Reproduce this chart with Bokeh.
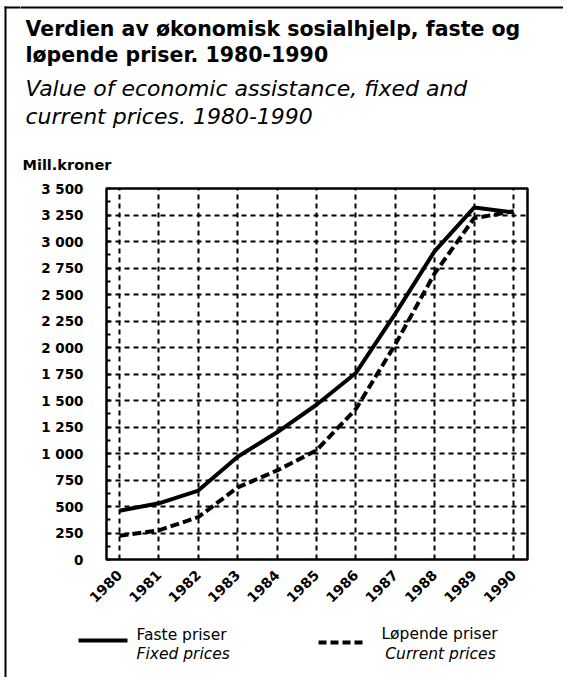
from bokeh.plotting import figure
from bokeh.models import FixedTicker, Range1d
from bokeh.layouts import column, row
from bokeh.core.properties import value
from bokeh.embed import file_html
from bokeh.resources import INLINE
import math

# ---- data ----
years = [1980, 1981, 1982, 1983, 1984, 1985, 1986, 1987, 1988, 1989, 1990]
fixed_prices = [460, 530, 650, 970, 1200, 1460, 1760, 2320, 2910, 3320, 3275]
current_prices = [225, 275, 400, 680, 840, 1030, 1420, 2030, 2700, 3220, 3285]
y_tick_values = [0, 250, 500, 750, 1000, 1250, 1500, 1750, 2000, 2250, 2500, 2750, 3000, 3250, 3500]
y_tick_labels = ["0", "250", "500", "750", "1 000", "1 250", "1 500", "1 750", "2 000",
                 "2 250", "2 500", "2 750", "3 000", "3 250", "3 500"]
year_labels = [str(y) for y in years]

title_lines = ["Verdien av økonomisk sosialhjelp, faste og", "løpende priser. 1980-1990"]
subtitle_lines = ["Value of economic assistance, fixed and", "current prices. 1980-1990"]
unit_label = "Mill.kroner"
legend_fixed = ("Faste priser", "Fixed prices")
legend_current = ("Løpende priser", "Current prices")

FONT = "DejaVu Sans"
W = 563
HEAD_H, CHART_H, LEG_H = 176, 439, 62
TOTAL_H = HEAD_H + CHART_H + LEG_H
SW = 20                       # width of the left strip holding the panel border
CW = W - SW                   # width of the main column
FL, FR, FT, FB = 106, 527, 188, 559   # chart frame edges on the page
BORDER_X, BORDER_Y = 5, 7


def blank(width, height):
    f = figure(width=width, height=height, output_backend="svg", toolbar_location=None,
               x_range=Range1d(0, width), y_range=Range1d(height, 0),
               x_axis_location=None, y_axis_location=None, min_border=0,
               frame_align=False)
    f.outline_line_color = None
    f.grid.visible = False
    f.background_fill_color = "white"
    f.border_fill_color = "white"
    return f


def add_text(f, txt, x, y, size, style="normal", align="left"):
    f.text(x=[x - SW], y=[y], text=[txt], text_font=value(FONT), text_font_size=value(size),
           text_font_style=style, text_color="black", text_align=align,
           text_baseline="middle")


# ---- left strip: panel border ----
strip = blank(SW, TOTAL_H)
strip.quad(left=[BORDER_X - 1], right=[BORDER_X + 1], top=[BORDER_Y - 1], bottom=[TOTAL_H + 20],
           fill_color="black", line_color=None)
strip.quad(left=[BORDER_X - 1], right=[SW + 5], top=[BORDER_Y - 1], bottom=[BORDER_Y + 1],
           fill_color="black", line_color=None)

# ---- header (titles, unit) ----
head = blank(CW, HEAD_H)
head.quad(left=[-5], right=[CW + 5], top=[BORDER_Y - 1], bottom=[BORDER_Y + 1],
          fill_color="black", line_color=None)
add_text(head, title_lines[0], 25, 28, "20.5px", "bold")
add_text(head, title_lines[1], 25, 54, "20.5px", "bold")
add_text(head, subtitle_lines[0], 25, 88, "22px", "italic")
add_text(head, subtitle_lines[1], 25, 116, "22px", "italic")
add_text(head, unit_label, 22, 164, "14.5px", "bold")

# ---- chart ----
X0, X1 = 1979.67, 1990.355
p = figure(width=CW, height=CHART_H, output_backend="svg", toolbar_location=None,
           x_range=Range1d(X0, X1), y_range=Range1d(0, 3500),
           min_border_left=FL - SW, min_border_right=W - FR,
           min_border_top=FT - HEAD_H, min_border_bottom=HEAD_H + CHART_H - FB,
           frame_align=False)
p.background_fill_color = "white"
p.border_fill_color = "white"
p.outline_line_color = "black"
p.outline_line_width = 2.5

p.xgrid.ticker = FixedTicker(ticks=years)
p.ygrid.ticker = FixedTicker(ticks=y_tick_values[1:-1])
for g in (p.xgrid[0], p.ygrid[0]):
    g.grid_line_color = "black"
    g.grid_line_width = 2
    g.grid_line_dash = "5 4"
    g.grid_line_alpha = 1.0

minor = [v + 125 for v in y_tick_values[:-1]]
p.yaxis.ticker = FixedTicker(ticks=y_tick_values, minor_ticks=minor)
p.yaxis.major_label_overrides = {v: l for v, l in zip(y_tick_values, y_tick_labels)}
p.yaxis.axis_line_color = None
p.yaxis.major_tick_in = 4
p.yaxis.major_tick_out = 0
p.yaxis.minor_tick_in = 4
p.yaxis.minor_tick_out = 0
p.yaxis.major_tick_line_width = 2
p.yaxis.minor_tick_line_width = 2
p.yaxis.major_tick_line_color = "black"
p.yaxis.minor_tick_line_color = "black"
p.yaxis.major_label_standoff = 23
p.yaxis.major_label_text_font = FONT
p.yaxis.major_label_text_font_style = "bold"
p.yaxis.major_label_text_font_size = "13.5px"
p.yaxis.major_label_text_color = "black"

p.xaxis.ticker = FixedTicker(ticks=years)
p.xaxis.major_label_overrides = {y: l for y, l in zip(years, year_labels)}
p.xaxis.axis_line_color = None
p.xaxis.major_tick_in = 0
p.xaxis.major_tick_out = 0
p.xaxis.minor_tick_line_color = None
p.xaxis.major_label_orientation = math.pi / 4
p.xaxis.major_label_standoff = 13
p.xaxis.major_label_text_font = FONT
p.xaxis.major_label_text_font_style = "bold"
p.xaxis.major_label_text_font_size = "14px"
p.xaxis.major_label_text_color = "black"

p.line(years, fixed_prices, line_color="black", line_width=4, line_join="round")
p.line(years, current_prices, line_color="black", line_width=4, line_dash="9 4")

# ---- legend ----
leg = blank(CW, LEG_H)
leg.line([78 - SW, 127 - SW], [25, 25], line_color="black", line_width=4)
leg.line([318 - SW, 366 - SW], [27, 27], line_color="black", line_width=4, line_dash="8 4")
add_text(leg, legend_fixed[0], 136, 19, "15.5px")
add_text(leg, legend_fixed[1], 136, 38, "15.5px", "italic")
add_text(leg, legend_current[0], 439, 18, "15.5px", align="center")
add_text(leg, legend_current[1], 440, 38, "15.5px", "italic", align="center")

layout = row(strip, column(head, p, leg, spacing=0), spacing=0)
open("out.html", "w").write(file_html(layout, INLINE))
